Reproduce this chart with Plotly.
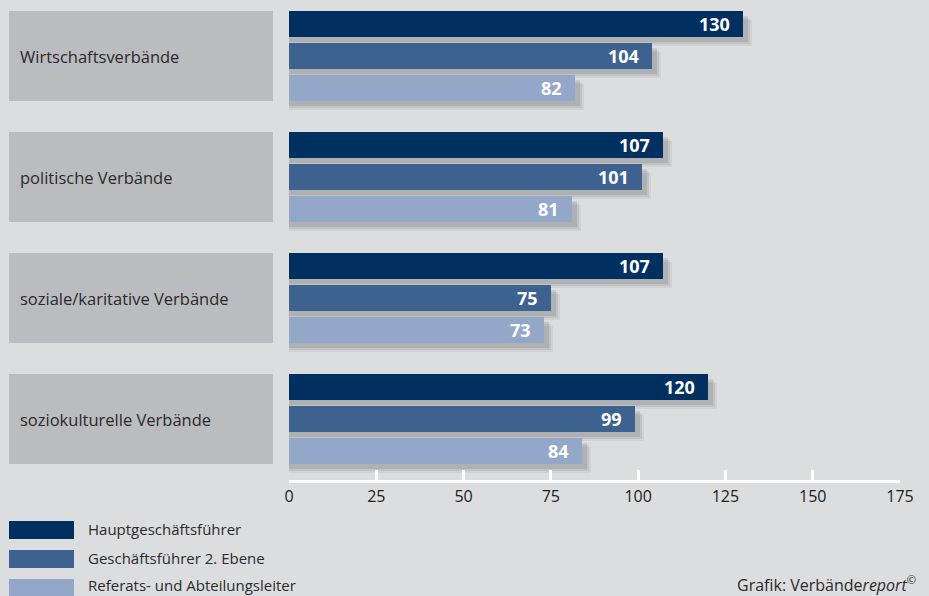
import plotly.graph_objects as go

categories = ["Wirtschaftsverbände", "politische Verbände",
              "soziale/karitative Verbände", "soziokulturelle Verbände"]
series_names = ["Hauptgeschäftsführer", "Geschäftsführer 2. Ebene",
                "Referats- und Abteilungsleiter"]
haupt = [130, 107, 107, 120]
gf2 = [104, 101, 75, 99]
ref = [82, 81, 73, 84]
tick_vals = [0, 25, 50, 75, 100, 125, 150, 175]

series = [haupt, gf2, ref]
colors = ["#00305f", "#3d6290", "#93a8c9"]
BG = "#dcdddf"

W, H = 929, 596
L, R, T, B = 289, 29, 0, 116
PH = H - T - B  # plot height in px (y axis in pixel units)
PW = W - L - R
XMAX = 175
px_per_unit = PW / XMAX

GROUP_STEP = 121
BAR_STEP = 32
FIRST = 24
BAR_W = 26

def ypos(i, j):
    return FIRST + GROUP_STEP * i + BAR_STEP * j

fig = go.Figure()

# soft shadows
for dx, dy, op in [(9, 9, 0.05), (7, 7, 0.07), (5, 5, 0.09)]:
    for j, vals in enumerate(series):
        fig.add_trace(go.Bar(
            x=[v + dx / px_per_unit for v in vals],
            y=[ypos(i, j) + dy for i in range(len(vals))],
            orientation="h", width=BAR_W,
            marker=dict(color=f"rgba(0,0,0,{op})", line=dict(width=0)),
            showlegend=False, hoverinfo="skip"))

for j, vals in enumerate(series):
    fig.add_trace(go.Bar(
        x=vals, y=[ypos(i, j) for i in range(len(vals))],
        orientation="h", width=BAR_W, name=series_names[j],
        marker=dict(color=colors[j], line=dict(width=0)),
        showlegend=False))
    for i, v in enumerate(vals):
        fig.add_annotation(x=v, y=ypos(i, j), xref="x", yref="y",
                           text=f"<b>{v}</b>", showarrow=False,
                           xanchor="right", xshift=-11,
                           font=dict(family="Open Sans", size=18, color="white"))

def px_to_paper_x(px):
    return (px - L) / PW

def py_to_paper_y(py):
    return (PH - py) / PH

shapes = []
for i, cat in enumerate(categories):
    shapes.append(dict(type="rect", xref="paper", yref="paper",
                       x0=px_to_paper_x(9), x1=px_to_paper_x(273),
                       y0=py_to_paper_y(11 + GROUP_STEP * i),
                       y1=py_to_paper_y(101 + GROUP_STEP * i),
                       fillcolor="#bbbcbf", line=dict(width=0), layer="below"))
    fig.add_annotation(xref="paper", yref="y", x=px_to_paper_x(18),
                       y=56 + GROUP_STEP * i, text=cat, showarrow=False,
                       xanchor="left", yanchor="middle",
                       font=dict(family="Open Sans", size=16.5, color="#2a2a2a"))

# legend
leg_y = [530, 559, 588]
leg_text_y = [529, 558, 585]
for j, name in enumerate(series_names):
    shapes.append(dict(type="rect", xref="paper", yref="paper",
                       x0=px_to_paper_x(9), x1=px_to_paper_x(74),
                       y0=py_to_paper_y(leg_y[j] - 9), y1=py_to_paper_y(leg_y[j] + 9),
                       fillcolor=colors[j], line=dict(width=0)))
    fig.add_annotation(xref="paper", yref="paper", x=px_to_paper_x(86),
                       y=py_to_paper_y(leg_text_y[j]), text=name, showarrow=False,
                       xanchor="left", yanchor="middle",
                       font=dict(family="Open Sans", size=15, color="#2a2a2a"))

fig.add_annotation(xref="paper", yref="paper", x=px_to_paper_x(918),
                   y=py_to_paper_y(584), text="Grafik: Verbände<i>report</i><sup>©</sup>",
                   showarrow=False, xanchor="right", yanchor="middle",
                   font=dict(family="Open Sans", size=16, color="#2a2a2a"))

fig.update_layout(
    width=W, height=H, margin=dict(l=L, r=R, t=T, b=B),
    paper_bgcolor=BG, plot_bgcolor="rgba(0,0,0,0)",
    barmode="overlay", bargap=0, shapes=shapes, showlegend=False,
    xaxis=dict(range=[0, XMAX], tickvals=tick_vals, showgrid=False, zeroline=False,
               showline=True, linecolor="white", linewidth=3,
               ticks="inside", ticklen=10, tickwidth=3, tickcolor="white",
               tickfont=dict(family="Open Sans", size=16, color="#222"),
               fixedrange=True),
    yaxis=dict(range=[PH, 0], visible=False, fixedrange=True),
)

fig.write_html("out.html", config={"displayModeBar": False},
               post_script=f"document.body.style.margin='0';"
                           f"document.body.style.background='{BG}';")
